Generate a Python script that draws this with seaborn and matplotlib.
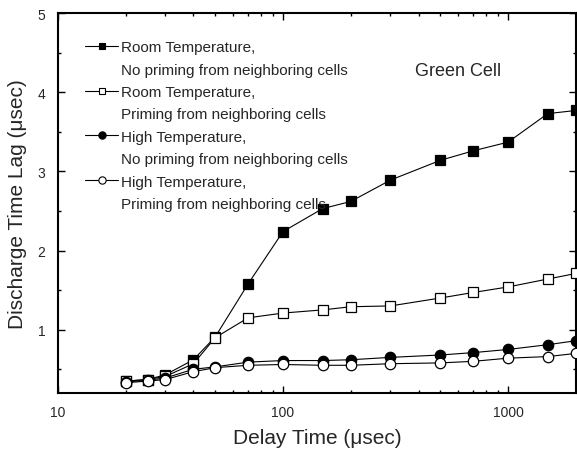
import matplotlib
matplotlib.use("Agg")
import matplotlib.pyplot as plt
import seaborn as sns
import numpy as np
from matplotlib.lines import Line2D
from matplotlib.ticker import FixedLocator, NullFormatter, MultipleLocator

sns.set_style("ticks")
plt.rcParams['font.family'] = ['Liberation Sans', 'DejaVu Sans']

delay = [20, 25, 30, 40, 50, 70, 100, 150, 200, 300, 500, 700, 1000, 1500, 2000]
room_no_prime = [0.35, 0.37, 0.43, 0.62, 0.91, 1.58, 2.24, 2.53, 2.62, 2.89, 3.14, 3.26, 3.37, 3.73, 3.77]
room_prime = [0.35, 0.37, 0.41, 0.57, 0.90, 1.15, 1.21, 1.25, 1.29, 1.30, 1.40, 1.47, 1.54, 1.64, 1.71]
high_no_prime = [0.34, 0.36, 0.39, 0.50, 0.53, 0.59, 0.61, 0.61, 0.62, 0.65, 0.68, 0.71, 0.75, 0.81, 0.86]
high_prime = [0.33, 0.35, 0.37, 0.47, 0.52, 0.55, 0.56, 0.55, 0.55, 0.57, 0.58, 0.60, 0.64, 0.66, 0.70]

labels = [
    ("Room Temperature,", "No priming from neighboring cells"),
    ("Room Temperature,", "Priming from neighboring cells"),
    ("High Temperature,", "No priming from neighboring cells"),
    ("High Temperature,", "Priming from neighboring cells"),
]
series = [room_no_prime, room_prime, high_no_prime, high_prime]
markers = ['s', 's', 'o', 'o']
faces = ['black', 'white', 'black', 'white']
msizes = [6.5, 6.5, 7.5, 7.5]

fig = plt.figure(figsize=(5.77, 4.56), dpi=100)
ax = fig.add_axes([0.1005, 0.136, 0.8975, 0.833])

for ys, m, fc, ms in zip(series, markers, faces, msizes):
    sns.lineplot(x=delay, y=ys, ax=ax, color='black', linewidth=0.8,
                 marker=m, markersize=ms, markerfacecolor=fc,
                 markeredgecolor='black', markeredgewidth=0.9, zorder=3)

ax.set_xscale('log')
ax.set_xlim(10, 2000)
ax.set_ylim(0.2, 5)
ax.xaxis.set_major_locator(FixedLocator([10, 100, 1000]))
ax.set_xticklabels(['10', '100', '1000'])
minor = [v * d for d in (10, 100, 1000) for v in range(2, 10) if v * d <= 2000]
ax.xaxis.set_minor_locator(FixedLocator(minor))
ax.xaxis.set_minor_formatter(NullFormatter())
ax.yaxis.set_major_locator(FixedLocator([1, 2, 3, 4, 5]))
ax.yaxis.set_minor_locator(FixedLocator([0.5, 1.5, 2.5, 3.5, 4.5]))

ax.tick_params(which='both', direction='in', top=True, right=True,
               labelsize=10, color='black', width=1.0)
ax.tick_params(which='major', length=5, pad=9)
ax.tick_params(which='minor', length=2.5)
for s in ax.spines.values():
    s.set_linewidth(1.5)
    s.set_color('black')

ax.set_xlabel('Delay Time (\u03bcsec)', fontsize=15, labelpad=6)
ax.set_ylabel('Discharge Time Lag (\u03bcsec)', fontsize=15, labelpad=8)

handles, texts = [], []
for (l1, l2), m, fc, ms in zip(labels, markers, faces, msizes):
    handles.append(Line2D([], [], color='black', linewidth=0.8, marker=m,
                          markersize=ms * 0.7, markerfacecolor=fc,
                          markeredgecolor='black', markeredgewidth=0.8))
    texts.append(l1)
    handles.append(Line2D([], [], linestyle='none', marker=None))
    texts.append(l2)
leg = ax.legend(handles, texts, loc='upper left', frameon=False, fontsize=11,
                handlelength=2.2, handletextpad=0.15, labelspacing=0.55,
                bbox_to_anchor=(0.04, 0.945), borderaxespad=0)

ax.text(0.69, 0.85, 'Green Cell', transform=ax.transAxes, fontsize=13,
        ha='left', va='center')

fig.savefig('out.png', dpi=100)
